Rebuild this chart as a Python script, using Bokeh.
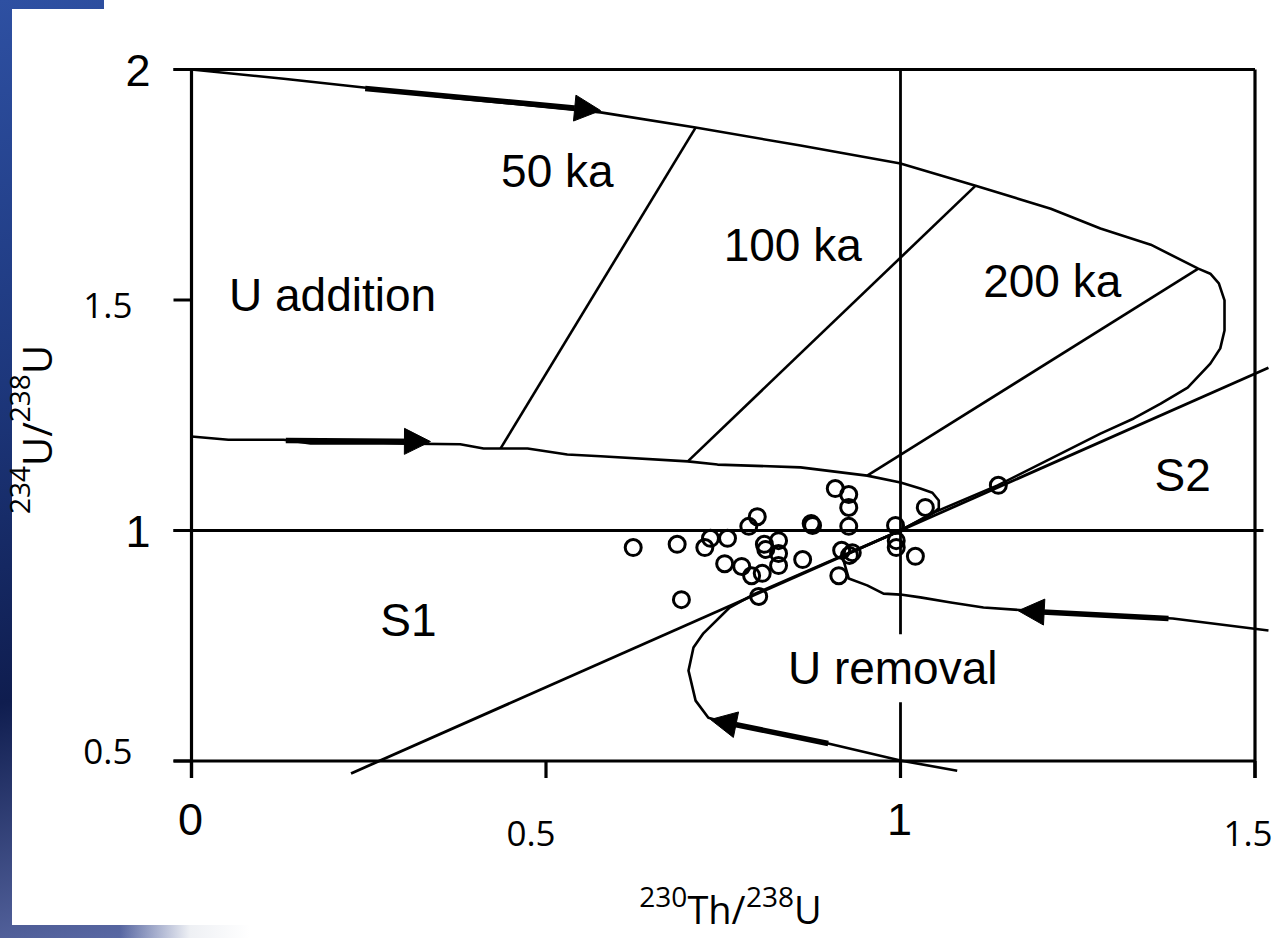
import math
from bokeh.plotting import figure
from bokeh.models import Range1d, Label, Arrow, NormalHead, ColumnDataSource
from bokeh.core.properties import value
from bokeh.embed import file_html
from bokeh.resources import INLINE

# ---------------- axis ticks ----------------
x_ticks = [0, 0.5, 1, 1.5]
x_tick_labels = ["0", "0.5", "1", "1.5"]
y_ticks = [2, 1.5, 1, 0.5]
y_tick_labels = ["2", "1.5", "1", "0.5"]

# secular equilibrium
equilibrium = 1.0

# ---------------- evolution curves ----------------
# initial 234U/238U = 2 (U addition), loops round to equilibrium
addition2_x = [0.0, 0.130, 0.243, 0.365, 0.577, 0.711, 0.859, 1.0, 1.106, 1.212,
               1.282, 1.353, 1.420, 1.437, 1.449, 1.457, 1.457, 1.451, 1.437, 1.405,
               1.367, 1.329, 1.282, 1.212, 1.137, 1.047, 1.0]
addition2_y = [2.0, 1.980, 1.961, 1.939, 1.907, 1.874, 1.835, 1.796, 1.748, 1.698,
               1.655, 1.620, 1.568, 1.557, 1.536, 1.499, 1.434, 1.395, 1.362, 1.310,
               1.275, 1.243, 1.210, 1.156, 1.098, 1.039, 1.0]

# initial 234U/238U = 1.2
addition12_x = [0.0, 0.052, 0.130, 0.168, 0.271, 0.379, 0.412, 0.474, 0.530, 0.577,
                0.700, 0.742, 0.859, 0.953, 1.0, 1.028, 1.045, 1.054, 1.054, 1.047, 1.0]
addition12_y = [1.204, 1.197, 1.197, 1.189, 1.189, 1.187, 1.178, 1.178, 1.165, 1.161,
                1.150, 1.143, 1.137, 1.119, 1.104, 1.091, 1.082, 1.065, 1.048, 1.039, 1.0]

# U removal paths
removal_upper_x = [1.519, 1.384, 1.183, 1.117, 1.071, 1.028, 1.0, 0.976, 0.953, 0.927, 0.918, 1.0]
removal_upper_y = [0.783, 0.809, 0.826, 0.833, 0.844, 0.855, 0.861, 0.863, 0.881, 0.896, 0.944, 1.0]

removal_lower_x = [1.080, 1.0, 0.898, 0.759, 0.729, 0.711, 0.701, 0.708, 0.722, 0.759, 0.795, 1.0]
removal_lower_y = [0.479, 0.501, 0.538, 0.581, 0.594, 0.631, 0.696, 0.746, 0.777, 0.833, 0.863, 1.0]

# boundary line separating S1 / S2
boundary_x = [0.225, 1.519]
boundary_y = [0.473, 1.353]

# isochrons: 50 ka, 100 ka, 200 ka
iso_x0 = [0.436, 0.700, 0.953]
iso_y0 = [1.178, 1.150, 1.119]
iso_x1 = [0.711, 1.106, 1.420]
iso_y1 = [1.874, 1.748, 1.568]

# direction of evolution along the curves
arrow_x0 = [0.245, 0.133, 1.378, 0.898]
arrow_y0 = [1.959, 1.195, 0.809, 0.538]
arrow_x1 = [0.577, 0.337, 1.166, 0.732]
arrow_y1 = [1.911, 1.193, 0.826, 0.590]

# ---------------- samples ----------------
sample_x = [0.623, 0.685, 0.724, 0.732, 0.756, 0.786, 0.798, 0.752, 0.776, 0.790,
            0.805, 0.808, 0.810, 0.828, 0.828, 0.828, 0.862, 0.874, 0.876, 0.908,
            0.927, 0.927, 0.927, 0.917, 0.928, 0.932, 0.913, 0.691, 0.800, 0.993,
            0.994, 0.994, 1.021, 1.035, 1.138]
sample_y = [0.963, 0.970, 0.963, 0.983, 0.983, 1.009, 1.030, 0.928, 0.922, 0.902,
            0.907, 0.970, 0.959, 0.978, 0.950, 0.924, 0.937, 1.015, 1.011, 1.091,
            1.078, 1.050, 1.009, 0.957, 0.946, 0.952, 0.902, 0.850, 0.857, 1.011,
            0.978, 0.963, 0.944, 1.050, 1.098]

# ---------------- canvas geometry ----------------
W, H = 1272, 938
PX_X = 709.0      # pixels per unit of 230Th/238U
PX_Y = 461.0      # pixels per unit of 234U/238U
ORIGIN_PX = 191   # pixel column of x = 0
TOP_PX = 69       # pixel row of y = 2
TICK_X = 18 / PX_X
TICK_Y = 17 / PX_Y
X_MIN, X_MAX = 0.0, 1.5
Y_MIN, Y_MAX = 0.5, 2.0

slide_bg = (
    "linear-gradient(#ffffff,#ffffff) 12px 9px / 1260px 916px no-repeat, "
    "linear-gradient(#ffffff,#ffffff) 104px 0px / 1168px 9px no-repeat, "
    "linear-gradient(90deg, rgba(255,255,255,0) 0px, rgba(255,255,255,0) 120px, "
    "#eef0f4 190px, #ffffff 250px) 0px 925px / 1272px 13px no-repeat, "
    "linear-gradient(165deg, #2e50a2 0%, #1d377c 30%, #0f1d4f 55%, #6170ac 78%, #1f2f6a 100%)"
)

p = figure(
    width=W, height=H,
    x_range=Range1d(-ORIGIN_PX / PX_X, (W - ORIGIN_PX) / PX_X),
    y_range=Range1d(Y_MAX - (H - TOP_PX) / PX_Y, Y_MAX + TOP_PX / PX_Y),
    x_axis_type=None, y_axis_type=None,
    toolbar_location=None, output_backend="svg",
    min_border=0, outline_line_color=None,
    background_fill_color=None, border_fill_color=None,
    styles={"background": slide_bg},
)

INK = "black"

# ---- frame, axes and ticks ----
p.line([-TICK_X, X_MAX], [Y_MAX, Y_MAX], line_color=INK, line_width=3.2)
p.line([X_MAX, X_MAX], [Y_MAX, Y_MIN - TICK_Y], line_color=INK, line_width=3.2)
p.line([-TICK_X, X_MAX], [Y_MIN, Y_MIN], line_color=INK, line_width=3.2)
p.line([X_MIN, X_MIN], [Y_MAX, Y_MIN - TICK_Y], line_color=INK, line_width=3.2)
p.segment(x0=x_ticks, y0=[Y_MIN] * len(x_ticks), x1=x_ticks, y1=[Y_MIN - TICK_Y] * len(x_ticks),
          line_color=INK, line_width=3.2)
p.segment(x0=[-TICK_X] * len(y_ticks), y0=y_ticks, x1=[X_MIN] * len(y_ticks), y1=y_ticks,
          line_color=INK, line_width=3.2)

# equilibrium cross-hair
p.line([equilibrium, equilibrium], [Y_MAX, Y_MIN - TICK_Y], line_color=INK, line_width=2.8)
p.line([-TICK_X, 1.512], [equilibrium, equilibrium], line_color=INK, line_width=2.8)

# ---- model curves ----
for cx, cy in [(addition2_x, addition2_y), (addition12_x, addition12_y),
               (removal_upper_x, removal_upper_y), (removal_lower_x, removal_lower_y)]:
    p.line(cx, cy, line_color=INK, line_width=2.6, line_join="round")

p.line(boundary_x, boundary_y, line_color=INK, line_width=2.8)
p.segment(x0=iso_x0, y0=iso_y0, x1=iso_x1, y1=iso_y1, line_color=INK, line_width=2.6)

# ---- samples ----
p.scatter(sample_x, sample_y, marker="circle", size=16, fill_color=None,
          line_color=INK, line_width=3)

# ---- arrows ----
arrow_src = ColumnDataSource(dict(x0=arrow_x0, y0=arrow_y0, x1=arrow_x1, y1=arrow_y1))
p.add_layout(Arrow(source=arrow_src, x_start="x0", y_start="y0", x_end="x1", y_end="y1",
                   line_width=5.5, line_color=INK,
                   end=NormalHead(size=26, fill_color=INK, line_color=INK, line_width=1)))

# ---- tick labels ----
def tick_text(xs, ys, labels, xoff, yoff, font, size, align):
    src = ColumnDataSource(dict(x=xs, y=ys, t=labels, xo=xoff, yo=yoff))
    p.text(x="x", y="y", text="t", x_offset="xo", y_offset="yo", source=src,
           text_font=value(font), text_font_size=size, text_align=align,
           text_baseline="middle", text_color=INK)

y_big = [(v, t) for v, t in zip(y_ticks, y_tick_labels) if "." not in t]
y_small = [(v, t) for v, t in zip(y_ticks, y_tick_labels) if "." in t]
tick_text([X_MIN] * len(y_big), [v for v, _ in y_big], [t for _, t in y_big],
          [-41] * len(y_big), [1, 1], "Liberation Sans", "45px", "right")
tick_text([X_MIN] * len(y_small), [v for v, _ in y_small], [t for _, t in y_small],
          [-59] * len(y_small), [5, -10], "Open Sans", "35px", "right")

x_big = [(v, t) for v, t in zip(x_ticks, x_tick_labels) if "." not in t]
x_small = [(v, t) for v, t in zip(x_ticks, x_tick_labels) if "." in t]
tick_text([v for v, _ in x_big], [Y_MIN] * len(x_big), [t for _, t in x_big],
          [-1, -1], [58, 58], "Liberation Sans", "45px", "center")
tick_text([v for v, _ in x_small], [Y_MIN] * len(x_small), [t for _, t in x_small],
          [-15, -7], [72, 72], "Open Sans", "35px", "center")

# ---- axis titles with superscripts ----
SUP_FS = 28
SUP_RAISE = 17

def piece_widths(pieces, main_fs):
    # approximate Open Sans advance widths (em)
    adv = {"T": 0.56, "h": 0.614, "/": 0.367, "U": 0.728}
    out = []
    for txt, sup in pieces:
        fs = SUP_FS if sup else main_fs
        out.append(sum(adv.get(c, 0.572) for c in txt) * fs)
    return out

# horizontal title, vertically centred pieces
X_TITLE_FS = 38
x_title = [("230", True), ("Th/", False), ("238", True), ("U", False)]
wx = piece_widths(x_title, X_TITLE_FS)
offs, acc = [], 0.0
for w in wx:
    offs.append(acc)
    acc += w
x_start = (730 - ORIGIN_PX) / PX_X
x_mid = Y_MAX - (908 - TOP_PX) / PX_Y
src = ColumnDataSource(dict(
    x=[x_start] * 4, y=[x_mid] * 4, t=[t for t, _ in x_title],
    xo=[o - acc / 2 for o in offs], yo=[-12 if s else 0 for _, s in x_title],
    fs=[f"{SUP_FS if s else X_TITLE_FS}px" for _, s in x_title]))
p.text(x="x", y="y", text="t", x_offset="xo", y_offset="yo", text_font_size="fs",
       source=src, text_font=value("Open Sans"), text_align="left",
       text_baseline="middle", text_color=INK)

# vertical title, reading upwards
Y_TITLE_FS = 40
y_title = [("234", True), ("U/", False), ("238", True), ("U", False)]
wy = piece_widths(y_title, Y_TITLE_FS)
offs, acc = [], 0.0
for w in wy:
    offs.append(acc)
    acc += w
y_mid = Y_MAX - (429 - TOP_PX) / PX_Y
y_base = (36 - ORIGIN_PX) / PX_X
src = ColumnDataSource(dict(
    x=[y_base] * 4, y=[y_mid] * 4, t=[t for t, _ in y_title],
    xo=[-SUP_RAISE if s else 0 for _, s in y_title], yo=[acc / 2 - o for o in offs],
    fs=[f"{SUP_FS if s else Y_TITLE_FS}px" for _, s in y_title]))
p.text(x="x", y="y", text="t", x_offset="xo", y_offset="yo", text_font_size="fs",
       source=src, text_font=value("Open Sans"), text_align="left",
       text_baseline="alphabetic", angle=math.pi / 2, text_color=INK)

# ---- region and isochron labels ----
def region_label(x, y, text, **kw):
    p.add_layout(Label(x=x, y=y, text=text, text_font="Liberation Sans",
                       text_font_size="46px", text_align="center",
                       text_baseline="middle", text_color=INK, **kw))

region_label(0.516, 1.779, "50 ka")
region_label(0.848, 1.620, "100 ka")
region_label(1.214, 1.542, "200 ka")
region_label(0.199, 1.510, "U addition")
region_label(1.398, 1.121, "S2")
region_label(0.306, 0.805, "S1")
region_label(0.989, 0.701, "U removal", background_fill_color="white", padding=8)

open("out.html", "w").write(file_html(p, INLINE))
